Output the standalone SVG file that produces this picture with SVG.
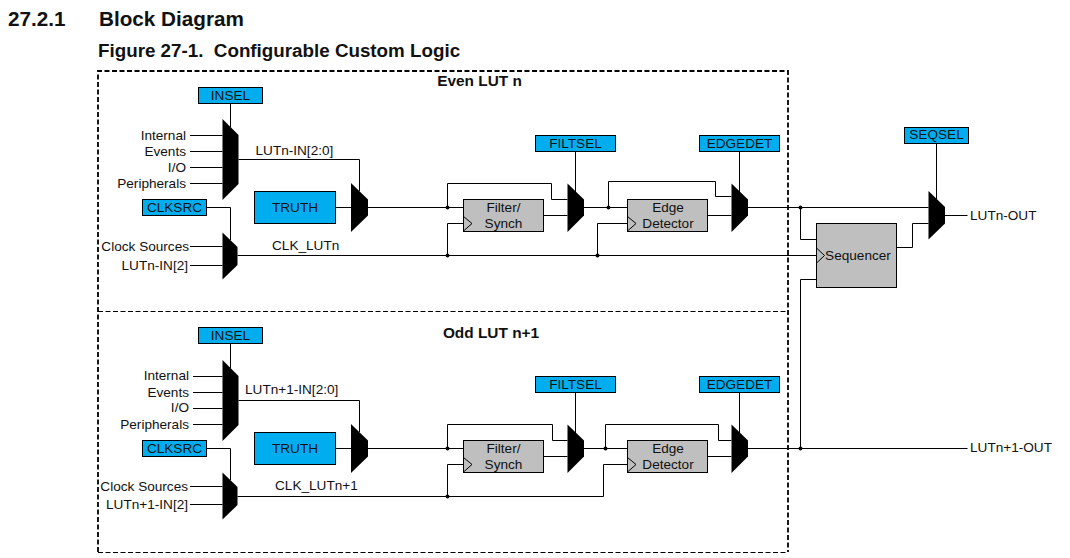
<svg xmlns="http://www.w3.org/2000/svg" width="1070" height="558" viewBox="0 0 1070 558">
<style>
text{font-family:"Liberation Sans",Arial,sans-serif;font-size:13.6px;fill:#111}
.h1{font-size:20.700px;font-weight:bold;fill:#111}
.h2{font-size:18.800px;font-weight:bold;fill:#111}
.t{font-size:15.400px;font-weight:bold;text-anchor:middle;fill:#111}
.m{text-anchor:middle}
.e{text-anchor:end}
.sel{fill:#00aeef;stroke:#000;stroke-width:1}
.gr{fill:#bfbfbf;stroke:#000;stroke-width:1}
.mux{fill:#000}
.w{fill:none;stroke:#000;stroke-width:1}
.d{fill:#000}
.b1{fill:none;stroke:#000;stroke-width:1.8;stroke-dasharray:5 2.500}
.b2{fill:none;stroke:#000;stroke-width:1;stroke-dasharray:5 2.500}
</style>
<text class="h1" x="8" y="26">27.2.1</text>
<text class="h1" x="99" y="26">Block Diagram</text>
<text class="h2" x="98" y="57" xml:space="preserve">Figure 27-1.  Configurable Custom Logic</text>
<g id="boundary">
<path class="b1" d="M98 552V71H788V552"/>
<path class="b2" d="M98 311.500H788M98 552.500H788"/>
<text class="t" x="479.500" y="86">Even LUT n</text>
<text class="t" x="491" y="338">Odd LUT n+1</text>
</g>
<g id="connectors">
<path class="w" d="M230.500 103.500V127M190 135.500H222.500M190 151.500H222.500M190 167.500H222.500M190 183.500H222.500M238.500 159.500H359.500V191M206.500 207.500H230.500V240M190 246.500H222.500M190 265.500H222.500M237.500 255.500H816.500M335.500 207.500H351M368 207.500H463.500M447.500 207.500V183.500H551.500V199.500H567.500M543.500 215.500H567.500M447.500 255.500V223.500H463.500M575.500 151.500V192M584 207.500H627.500M608.500 207.500V181.500H715.500V196.500H731.500M707.500 215.500H731.500M597.500 255.500V223.500H627.500M739.500 151.500V192M748 207.500H928.500M800.500 207.500V239.500H816.500M800.500 448.500V279.500H816.500M896.500 247.500H912.500V223.500H928.500M936.500 143.500V199M945 215.500H967.500"/>
<path class="w" d="M230.500 343.500V368M193 376.500H222.500M193 392.500H222.500M193 408.500H222.500M193 424.500H222.500M238.500 400.500H359.500V432M206.500 448.500H230.500V480M190 486.500H222.500M190 504.500H222.500M237.500 496.500H603.500V464.500H627.500M335.500 448.500H351M368 448.500H463.500M447.500 448.500V424.500H552.500V440.500H567.500M543.500 456.500H567.500M447.500 496.500V464.500H463.500M575.500 392.500V433M584 448.500H627.500M605.500 448.500V424.500H718.500V440.500H731.500M707.500 456.500H731.500M739.500 392.500V433M748 448.500H967.500"/>
<g class="d"><circle cx="447.500" cy="207.500" r="2"/><circle cx="447.500" cy="255.500" r="2"/><circle cx="608.500" cy="207.500" r="2"/><circle cx="597.500" cy="255.500" r="2"/><circle cx="800.500" cy="207.500" r="2"/><circle cx="447.500" cy="448.500" r="2"/><circle cx="447.500" cy="496.500" r="2"/><circle cx="605.500" cy="448.500" r="2"/><circle cx="800.500" cy="448.500" r="2"/></g>
<text x="255.500" y="155">LUTn-IN[2:0]</text>
<text x="272" y="250">CLK_LUTn</text>
<text x="245" y="394">LUTn+1-IN[2:0]</text>
<text x="275" y="490">CLK_LUTn+1</text>
</g>
<g id="even-inputs">
<text class="e" x="186" y="140">Internal</text><text class="e" x="186" y="156">Events</text><text class="e" x="186" y="172">I/O</text><text class="e" x="186" y="188">Peripherals</text>
<text class="e" x="189" y="251">Clock Sources</text><text class="e" x="188" y="270">LUTn-IN[2]</text>
</g>
<g id="even-insel"><rect class="sel" x="198.500" y="87.500" width="64" height="16"/><text class="m" x="230.500" y="100">INSEL</text></g>
<g id="even-mux-in"><polygon class="mux" points="222.500,119 238.500,135 238.500,184 222.500,200"/></g>
<g id="even-clksrc"><rect class="sel" x="142.500" y="199.500" width="64" height="16"/><text class="m" x="174.500" y="212">CLKSRC</text></g>
<g id="even-mux-clk"><polygon class="mux" points="222.500,232.500 237.500,247 237.500,265 222.500,279.500"/></g>
<g id="even-truth"><rect class="sel" x="254.500" y="191.500" width="81" height="32"/><text class="m" x="295" y="212">TRUTH</text></g>
<g id="even-mux-truth"><polygon class="mux" points="351,183 368,199.500 368,215.500 351,232"/></g>
<g id="even-filter"><rect class="gr" x="463.500" y="199.500" width="80" height="32"/><path class="w" d="M463.500 216.500L472 223.500L463.500 231"/><text class="m" x="503.500" y="212">Filter/</text><text class="m" x="503.500" y="228">Synch</text></g>
<g id="even-filtsel"><rect class="sel" x="535.500" y="135.500" width="80" height="16"/><text class="m" x="575.500" y="148">FILTSEL</text></g>
<g id="even-mux-filt"><polygon class="mux" points="567.500,183.500 584,199.500 584,215.500 567.500,232"/></g>
<g id="even-edge"><rect class="gr" x="627.500" y="199.500" width="80" height="32"/><path class="w" d="M627.500 216.500L636 223.500L627.500 231"/><text class="m" x="668" y="212">Edge</text><text class="m" x="668" y="228">Detector</text></g>
<g id="even-edgedet"><rect class="sel" x="699.500" y="135.500" width="80" height="16"/><text class="m" x="739.500" y="148">EDGEDET</text></g>
<g id="even-mux-edge"><polygon class="mux" points="731.500,183.500 748,199.500 748,215.500 731.500,232"/></g>
<g id="sequencer"><rect class="gr" x="816.500" y="223.500" width="80" height="64"/><path class="w" d="M816.500 248L824.500 255.500L816.500 263"/><text class="m" x="858" y="260">Sequencer</text></g>
<g id="seqsel"><rect class="sel" x="904.500" y="127.500" width="64" height="16"/><text class="m" x="936.500" y="139">SEQSEL</text></g>
<g id="mux-out"><polygon class="mux" points="928.500,191 945,207 945,223.500 928.500,239.500"/></g>
<g id="out-labels"><text x="970" y="220">LUTn-OUT</text><text x="970" y="452">LUTn+1-OUT</text></g>
<g id="odd-inputs">
<text class="e" x="189" y="380">Internal</text><text class="e" x="189" y="397">Events</text><text class="e" x="189" y="412">I/O</text><text class="e" x="189" y="429">Peripherals</text>
<text class="e" x="188" y="491">Clock Sources</text><text class="e" x="188" y="509">LUTn+1-IN[2]</text>
</g>
<g id="odd-insel"><rect class="sel" x="198.500" y="327.500" width="64" height="16"/><text class="m" x="230.500" y="340">INSEL</text></g>
<g id="odd-mux-in"><polygon class="mux" points="222.500,360 238.500,376 238.500,425 222.500,441"/></g>
<g id="odd-clksrc"><rect class="sel" x="142.500" y="440.500" width="64" height="16"/><text class="m" x="174.500" y="453">CLKSRC</text></g>
<g id="odd-mux-clk"><polygon class="mux" points="222.500,472.500 237.500,487 237.500,505 222.500,519.500"/></g>
<g id="odd-truth"><rect class="sel" x="254.500" y="432.500" width="81" height="32"/><text class="m" x="295" y="453">TRUTH</text></g>
<g id="odd-mux-truth"><polygon class="mux" points="351,424 368,440.500 368,456.500 351,473"/></g>
<g id="odd-filter"><rect class="gr" x="463.500" y="440.500" width="80" height="32"/><path class="w" d="M463.500 457.500L472 464.500L463.500 472"/><text class="m" x="503.500" y="453">Filter/</text><text class="m" x="503.500" y="469">Synch</text></g>
<g id="odd-filtsel"><rect class="sel" x="535.500" y="376.500" width="80" height="16"/><text class="m" x="575.500" y="389">FILTSEL</text></g>
<g id="odd-mux-filt"><polygon class="mux" points="567.500,424.500 584,440.500 584,456.500 567.500,473"/></g>
<g id="odd-edge"><rect class="gr" x="627.500" y="440.500" width="80" height="32"/><path class="w" d="M627.500 457.500L636 464.500L627.500 472"/><text class="m" x="668" y="453">Edge</text><text class="m" x="668" y="469">Detector</text></g>
<g id="odd-edgedet"><rect class="sel" x="699.500" y="376.500" width="80" height="16"/><text class="m" x="739.500" y="389">EDGEDET</text></g>
<g id="odd-mux-edge"><polygon class="mux" points="731.500,424.500 748,440.500 748,456.500 731.500,473"/></g>
</svg>
